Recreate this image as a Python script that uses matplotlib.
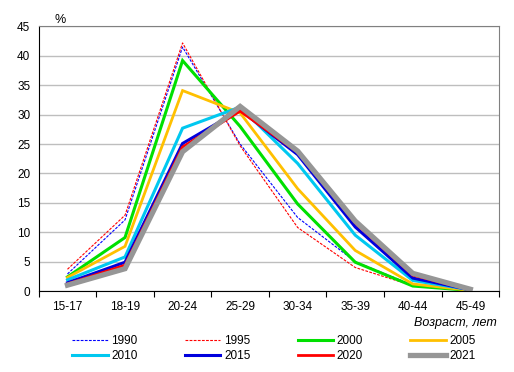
import matplotlib
matplotlib.use("Agg")
import matplotlib.pyplot as plt
import numpy as np

plt.rcParams['font.family'] = ['Liberation Sans', 'DejaVu Sans']

categories = ["15-17", "18-19", "20-24", "25-29", "30-34", "35-39", "40-44", "45-49"]
years = ["1990", "1995", "2000", "2005", "2010", "2015", "2020", "2021"]

v1990 = [2.9, 12.1, 41.5, 25.0, 12.5, 5.0, 1.0, 0.1]
v1995 = [3.7, 12.9, 42.2, 24.7, 10.8, 4.0, 0.9, 0.1]
v2000 = [2.4, 9.1, 39.2, 28.0, 14.8, 4.9, 0.85, 0.1]
v2005 = [2.3, 7.6, 34.1, 30.3, 17.4, 6.9, 1.2, 0.1]
v2010 = [1.9, 5.8, 27.7, 31.3, 21.7, 9.5, 1.8, 0.2]
v2015 = [1.4, 4.9, 25.1, 30.8, 23.2, 10.9, 2.2, 0.2]
v2020 = [1.2, 4.4, 24.5, 30.6, 23.6, 11.6, 2.7, 0.2]
v2021 = [1.0, 3.8, 23.7, 31.4, 23.8, 11.9, 3.0, 0.3]

series = [v1990, v1995, v2000, v2005, v2010, v2015, v2020, v2021]
colors = ["#0000FF", "#FF0000", "#00E000", "#FFC000", "#00C8F0", "#0000DD", "#FF0000", "#969696"]
widths = [0.8, 0.8, 2.2, 2.0, 2.2, 2.2, 2.0, 3.8]
styles = [(0, (2.5, 1.2)), (0, (2.5, 1.2)), "-", "-", "-", "-", "-", "-"]

fig = plt.figure(figsize=(5.14, 3.72), dpi=100)
ax = fig.add_axes([0.0753, 0.2177, 0.8957, 0.7111])

x = np.arange(len(categories))
lines = []
for vals, c, w, s, y in zip(series, colors, widths, styles, years):
    ln, = ax.plot(x, vals, color=c, lw=w, linestyle=s, label=y, solid_joinstyle='miter')
    lines.append(ln)

ax.set_xlim(-0.5, len(categories) - 0.5)
ax.set_ylim(0, 45)
ax.set_yticks(np.arange(0, 46, 5))
ax.yaxis.grid(True, color="#BEBEBE", lw=1)
ax.set_axisbelow(True)
ax.tick_params(axis='y', length=0, labelsize=8.5, pad=6)

ax.set_xticks(np.arange(-0.5, len(categories), 1.0))
ax.set_xticklabels([])
ax.tick_params(axis='x', which='major', length=4, direction='out', color='black')
ax.set_xticks(x, minor=True)
ax.set_xticklabels(categories, minor=True, fontsize=8.5)
ax.tick_params(axis='x', which='minor', length=0, pad=7)

for side in ['top', 'right']:
    ax.spines[side].set_color('#808080')
for side in ['left', 'bottom']:
    ax.spines[side].set_color('black')

fig.text(0.117, 0.945, "%", fontsize=9, ha='center', va='center')
fig.text(0.967, 0.133, "Возраст, лет", fontsize=9, style='italic', ha='right', va='center')

order = [0, 4, 1, 5, 2, 6, 3, 7]
leg = fig.legend([lines[i] for i in order], [years[i] for i in order],
                 ncol=4, loc='center', bbox_to_anchor=(0.533, 0.063),
                 frameon=False, fontsize=8.5, handlelength=3.0, handletextpad=0.3,
                 columnspacing=4.0, labelspacing=0.3)

fig.savefig("out.png", dpi=100)
